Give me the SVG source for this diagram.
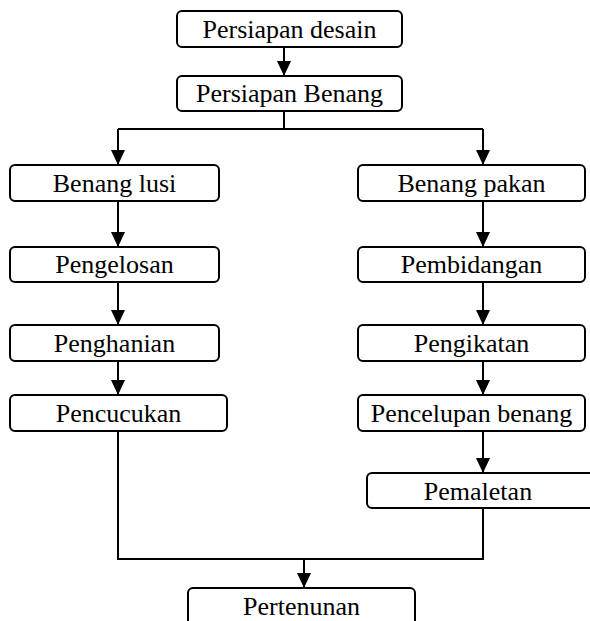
<svg xmlns="http://www.w3.org/2000/svg" width="590" height="621" viewBox="0 0 590 621">
<style>
.box{fill:#fff;stroke:#000;stroke-width:2}
.lbl{font-family:"Liberation Serif","Times New Roman",serif;font-size:26px;fill:#000;text-anchor:middle}
.ln{fill:none;stroke:#000;stroke-width:2}
</style>
<defs>
<marker id="ah" markerUnits="userSpaceOnUse" markerWidth="16" markerHeight="16" viewBox="0 0 16 16" refX="15" refY="8" orient="auto">
<path d="M0,1 L15,8 L0,15 Z" fill="#000"/>
</marker>
</defs>
<g id="connectors">
<path class="ln" d="M284,47 V76" marker-end="url(#ah)"/>
<path class="ln" d="M284,111 V129"/>
<path class="ln" d="M118,129 H483"/>
<path class="ln" d="M118,129 V165" marker-end="url(#ah)"/>
<path class="ln" d="M483,129 V165" marker-end="url(#ah)"/>
<path class="ln" d="M118,201 V247" marker-end="url(#ah)"/>
<path class="ln" d="M118,282 V325" marker-end="url(#ah)"/>
<path class="ln" d="M118,361 V395" marker-end="url(#ah)"/>
<path class="ln" d="M483,201 V247" marker-end="url(#ah)"/>
<path class="ln" d="M483,282 V325" marker-end="url(#ah)"/>
<path class="ln" d="M483,361 V395" marker-end="url(#ah)"/>
<path class="ln" d="M483,431 V473" marker-end="url(#ah)"/>
<path class="ln" d="M118,431 V559 H483 V508"/>
<path class="ln" d="M304,559 V588" marker-end="url(#ah)"/>
</g>
<g id="n1"><rect class="box" x="177" y="11" width="225" height="36" rx="5"/><text class="lbl" x="289.5" y="38">Persiapan desain</text></g>
<g id="n2"><rect class="box" x="177" y="76" width="225" height="35" rx="5"/><text class="lbl" x="289.5" y="102">Persiapan Benang</text></g>
<g id="n3"><rect class="box" x="10" y="165" width="209" height="36" rx="5"/><text class="lbl" x="114.5" y="192">Benang lusi</text></g>
<g id="n4"><rect class="box" x="10" y="247" width="209" height="35" rx="5"/><text class="lbl" x="114.5" y="273">Pengelosan</text></g>
<g id="n5"><rect class="box" x="10" y="325" width="209" height="36" rx="5"/><text class="lbl" x="114.5" y="352">Penghanian</text></g>
<g id="n6"><rect class="box" x="10" y="395" width="217" height="36" rx="5"/><text class="lbl" x="118.5" y="422">Pencucukan</text></g>
<g id="n7"><rect class="box" x="358" y="165" width="227" height="36" rx="5"/><text class="lbl" x="471.5" y="192">Benang pakan</text></g>
<g id="n8"><rect class="box" x="358" y="247" width="227" height="35" rx="5"/><text class="lbl" x="471.5" y="273">Pembidangan</text></g>
<g id="n9"><rect class="box" x="358" y="325" width="227" height="36" rx="5"/><text class="lbl" x="471.5" y="352">Pengikatan</text></g>
<g id="n10"><rect class="box" x="358" y="395" width="227" height="36" rx="5"/><text class="lbl" x="471.5" y="422">Pencelupan benang</text></g>
<g id="n11"><rect class="box" x="367" y="473" width="230" height="35" rx="5"/><text class="lbl" x="478" y="500">Pemaletan</text></g>
<g id="n12"><rect class="box" x="188" y="588" width="227" height="40" rx="5"/><text class="lbl" x="301.5" y="615">Pertenunan</text></g>
</svg>
